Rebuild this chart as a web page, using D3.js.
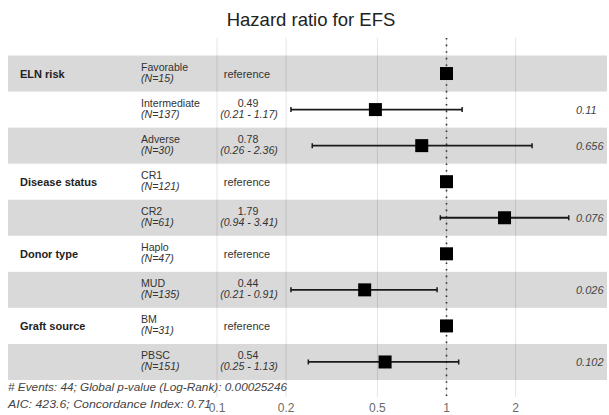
<!DOCTYPE html>
<html>
<head>
<meta charset="utf-8">
<script src="https://cdn.jsdelivr.net/npm/d3@7"></script>
<style>
  body { margin: 0; background: #fff; }
  text { font-family: "Liberation Sans", Arial, sans-serif; }
</style>
</head>
<body>
<div id="chart"></div>
<script>
// datos del modelo de Cox
const variables = ["ELN risk", "", "", "Disease status", "", "Donor type", "", "Graft source", ""];
const niveles = ["Favorable", "Intermediate", "Adverse", "CR1", "CR2", "Haplo", "MUD", "BM", "PBSC"];
const nPacientes = [15, 137, 30, 121, 61, 47, 135, 31, 151];
const hr = [1, 0.49, 0.78, 1, 1.79, 1, 0.44, 1, 0.54];
const inferior = [null, 0.21, 0.26, null, 0.94, null, 0.21, null, 0.25];
const superior = [null, 1.17, 2.36, null, 3.41, null, 0.91, null, 1.13];
const pValores = [null, "0.11", "0.656", null, "0.076", null, "0.026", null, "0.102"];
const ticks = [0.1, 0.2, 0.5, 1, 2];
const pie1 = "# Events: 44; Global p-value (Log-Rank): 0.00025246";
const pie2 = "AIC: 423.6; Concordance Index: 0.71";

const ancho = 609, alto = 415;
const svg = d3.select("#chart").append("svg")
    .attr("width", ancho)
    .attr("height", alto);

const x = d3.scaleLog().domain([0.1, 1]).range([217, 446.5]);
const y = d3.scaleBand().domain(d3.range(niveles.length)).range([55.5, 380]);
const panelTop = 38, panelBottom = 397;

// titulo
svg.append("text")
    .attr("x", 311).attr("y", 26)
    .attr("text-anchor", "middle")
    .attr("font-size", 18.5)
    .attr("fill", "#222")
    .text("Hazard ratio for EFS");

// lineas de rejilla
svg.selectAll("line.grid").data(ticks).enter().append("line")
    .attr("class", "grid")
    .attr("x1", d => x(d)).attr("x2", d => x(d))
    .attr("y1", panelTop).attr("y2", panelBottom)
    .attr("stroke", "#e4e4e4")
    .attr("stroke-width", 1);

// bandas alternas
svg.selectAll("rect.banda").data(d3.range(niveles.length).filter(i => i % 2 === 0)).enter().append("rect")
    .attr("class", "banda")
    .attr("x", 8).attr("width", 599)
    .attr("y", d => y(d)).attr("height", y.bandwidth())
    .attr("fill", "rgba(0,0,0,0.15)");

// linea de referencia en 1
svg.append("line")
    .attr("x1", x(1)).attr("x2", x(1))
    .attr("y1", panelTop).attr("y2", panelBottom)
    .attr("stroke", "#333")
    .attr("stroke-width", 1.6)
    .attr("stroke-dasharray", "1.6,5");

const filas = svg.selectAll("g.fila").data(d3.range(niveles.length)).enter().append("g")
    .attr("class", "fila")
    .attr("transform", i => `translate(0,${y(i) + y.bandwidth() / 2})`);

// texto de variables
filas.append("text")
    .attr("x", 20).attr("y", 4)
    .attr("font-size", 11).attr("font-weight", "bold").attr("fill", "#222")
    .text(i => variables[i]);

filas.append("text")
    .attr("x", 141).attr("y", -2.5)
    .attr("font-size", 10.6).attr("fill", "#333")
    .text(i => niveles[i]);
filas.append("text")
    .attr("x", 141).attr("y", 8.5)
    .attr("font-size", 10.6).attr("font-style", "italic").attr("fill", "#333")
    .text(i => "(N=" + nPacientes[i] + ")");

// estimaciones
filas.filter(i => inferior[i] === null).append("text")
    .attr("x", 247).attr("y", 4)
    .attr("text-anchor", "middle")
    .attr("font-size", 11).attr("fill", "#333")
    .text("reference");
const conIC = filas.filter(i => inferior[i] !== null);
conIC.append("text")
    .attr("x", 248).attr("y", -2.5)
    .attr("text-anchor", "middle")
    .attr("font-size", 10.6).attr("fill", "#333")
    .text(i => hr[i].toFixed(2));
conIC.append("text")
    .attr("x", 249).attr("y", 8.5)
    .attr("text-anchor", "middle")
    .attr("font-size", 10.6).attr("font-style", "italic").attr("fill", "#333")
    .text(i => "(" + inferior[i].toFixed(2) + " - " + superior[i].toFixed(2) + ")");

// barras de error
conIC.append("line")
    .attr("x1", i => x(inferior[i])).attr("x2", i => x(superior[i]))
    .attr("y1", 0).attr("y2", 0)
    .attr("stroke", "#1a1a1a").attr("stroke-width", 1.8);
conIC.append("line")
    .attr("x1", i => x(inferior[i])).attr("x2", i => x(inferior[i]))
    .attr("y1", -2.5).attr("y2", 2.5)
    .attr("stroke", "#1a1a1a").attr("stroke-width", 1.5);
conIC.append("line")
    .attr("x1", i => x(superior[i])).attr("x2", i => x(superior[i]))
    .attr("y1", -2.5).attr("y2", 2.5)
    .attr("stroke", "#1a1a1a").attr("stroke-width", 1.5);

// puntos
filas.append("rect")
    .attr("x", i => x(hr[i]) - 6.5).attr("y", -6.5)
    .attr("width", 13).attr("height", 13)
    .attr("fill", "#000");

// p valores
conIC.append("text")
    .attr("x", 576).attr("y", 4)
    .attr("font-size", 11).attr("font-style", "italic").attr("fill", "#444")
    .text(i => pValores[i]);

// eje x
svg.selectAll("text.tick").data(ticks).enter().append("text")
    .attr("class", "tick")
    .attr("x", d => x(d)).attr("y", 412)
    .attr("text-anchor", "middle")
    .attr("font-size", 12).attr("fill", "#6b6b6b")
    .text(d => d);

// pie
svg.append("text")
    .attr("x", 8).attr("y", 391)
    .attr("font-size", 11).attr("font-style", "italic").attr("fill", "#444")
    .attr("textLength", 279).attr("lengthAdjust", "spacingAndGlyphs")
    .text(pie1);
svg.append("text")
    .attr("x", 8).attr("y", 407.5)
    .attr("font-size", 11).attr("font-style", "italic").attr("fill", "#444")
    .attr("textLength", 203).attr("lengthAdjust", "spacingAndGlyphs")
    .text(pie2);
</script>
</body>
</html>
